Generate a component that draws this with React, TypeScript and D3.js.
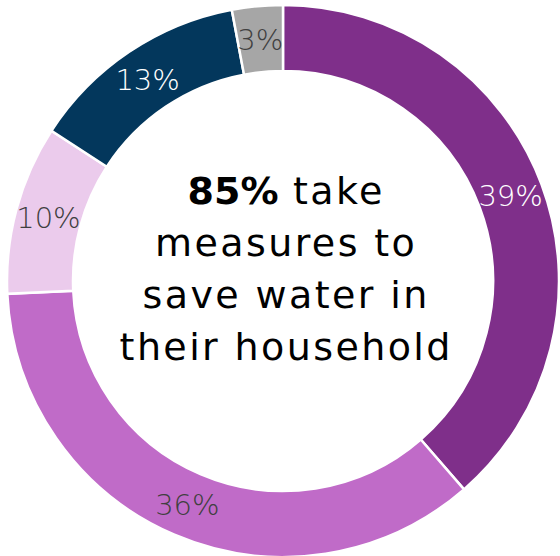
import React from "react";
import * as d3 from "d3";

const categories = ["A", "B", "C", "D", "E"];
const values = [39, 36, 10, 13, 3];
const labels = ["39%", "36%", "10%", "13%", "3%"];
const colors = ["#7F2F8A", "#C06BC8", "#EBCBEC", "#03375C", "#A6A6A6"];
const labelColors = ["#FFFFFF", "#404040", "#404040", "#FFFFFF", "#404040"];
const centerLines = [["85%", " take"], ["", "measures to"], ["", "save water in"], ["", "their household"]];

export default function App() {
  const W = 560, H = 556;
  const cx = 283, cy = 281, rO = 276, rI = 210;
  const pie = d3.pie<number>().sort(null).value((d) => d);
  const arcs = pie(values);
  const arc = d3.arc<d3.PieArcDatum<number>>().innerRadius(rI).outerRadius(rO);
  const font = "'DejaVu Sans', sans-serif";
  const ls = 2.4;
  return (
    <svg width={W} height={H} style={{ position: "absolute", left: 0, top: 0 }}>
      <rect width={W} height={H} fill="#fff" />
      <g transform={`translate(${cx},${cy})`}>
        {arcs.map((a, i) => (
          <path key={categories[i]} d={arc(a) || ""} fill={colors[i]} stroke="#fff" strokeWidth={2.5} />
        ))}
        {arcs.map((a, i) => {
          const [x, y] = arc.centroid(a);
          return (
            <text key={"l" + i} x={x} y={y} dy="0.36em" textAnchor="middle" fill={labelColors[i]}
              fontFamily={font} fontWeight={200} fontSize={29}>
              {labels[i]}
            </text>
          );
        })}
      </g>
      {centerLines.map((ln, i) => (
        <text key={"c" + i} x={285 + ls / 2} y={204 + i * 52} textAnchor="middle" fontFamily={font}
          fontSize={38} letterSpacing={ls} fill="#000">
          {ln[0] && <tspan fontWeight={700} letterSpacing={0}>{ln[0]}</tspan>}
          <tspan>{ln[1]}</tspan>
        </text>
      ))}
    </svg>
  );
}
